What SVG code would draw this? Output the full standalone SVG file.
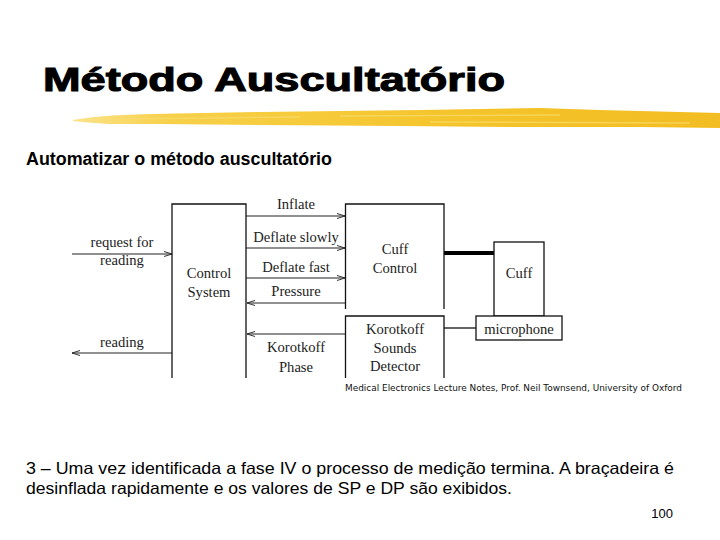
<svg xmlns="http://www.w3.org/2000/svg" width="720" height="540" viewBox="0 0 720 540">
<defs>
<linearGradient id="brush" x1="0" y1="0" x2="1" y2="0">
<stop offset="0" stop-color="#FBE38A"/>
<stop offset="0.15" stop-color="#F7D04A"/>
<stop offset="0.6" stop-color="#F4C42A"/>
<stop offset="1" stop-color="#F2BD22"/>
</linearGradient>
<marker id="arr" markerWidth="10" markerHeight="8" refX="9" refY="4" orient="auto" markerUnits="userSpaceOnUse">
<path d="M1,1.5 L9,4 L1,6.5" fill="none" stroke="#333" stroke-width="1"/>
</marker>
<style>
.t{font-family:"Liberation Serif","Times New Roman",serif;font-size:14.6px;fill:#222;text-anchor:middle}
.ln{stroke:#111;stroke-width:1.3;fill:none}
.bx{stroke:#111;stroke-width:1.3;fill:#fff}
.c{stroke:#222;stroke-width:1.1;fill:none;marker-end:url(#arr)}
</style>
</defs>
<rect width="720" height="540" fill="#fff"/>
<text x="43" y="91" font-family="'Liberation Sans',Arial,sans-serif" font-weight="bold" font-size="34" fill="#000" stroke="#000" stroke-width="1.1" textLength="462" lengthAdjust="spacingAndGlyphs">Método Auscultatório</text>
<path d="M73,120 C90,117 110,115 150,114 L260,112 L420,110 L540,108 L600,110 L680,112 L720,113 L720,128 L640,127 L520,127 L400,126 L260,125 L160,124 L110,124 C95,123 82,122 73,121 Z" fill="url(#brush)"/>
<path d="M120,119 L300,117 M340,116 L560,115 M430,122 L690,123" stroke="#F9DC6E" stroke-width="1.5" fill="none" opacity="0.7"/>
<text x="26" y="165" font-family="'Liberation Sans',Arial,sans-serif" font-weight="bold" font-size="17.5" fill="#000" textLength="306" lengthAdjust="spacingAndGlyphs">Automatizar o método auscultatório</text>
<g id="connectors">
<line class="c" x1="72" y1="254" x2="172" y2="254"/>
<line class="c" x1="172" y1="353" x2="72" y2="353"/>
<line class="c" x1="246" y1="216" x2="345" y2="216"/>
<line class="c" x1="246" y1="248" x2="345" y2="248"/>
<line class="c" x1="246" y1="278" x2="345" y2="278"/>
<line class="c" x1="345" y1="303" x2="247" y2="303"/>
<line class="c" x1="345" y1="334" x2="247" y2="334"/>
<line x1="444" y1="253" x2="494" y2="253" stroke="#000" stroke-width="4"/>
<line x1="444" y1="328" x2="476" y2="328" stroke="#111" stroke-width="1.3"/>
<text class="t" x="122" y="247">request for</text>
<text class="t" x="122" y="265">reading</text>
<text class="t" x="122" y="347">reading</text>
<text class="t" x="296" y="209">Inflate</text>
<text class="t" x="296" y="242">Deflate slowly</text>
<text class="t" x="296" y="272">Deflate fast</text>
<text class="t" x="296" y="296">Pressure</text>
<text class="t" x="296" y="352">Korotkoff</text>
<text class="t" x="296" y="372">Phase</text>
</g>
<g id="control-system">
<path class="ln" d="M172,378 L172,204 L246,204 L246,378"/>
<text class="t" x="209" y="278">Control</text>
<text class="t" x="209" y="297">System</text>
</g>
<g id="cuff-control">
<path class="ln" d="M345.5,309 L345.5,204 L444,204 L444,309"/>
<text class="t" x="395" y="254">Cuff</text>
<text class="t" x="395" y="273">Control</text>
</g>
<g id="korotkoff-detector">
<path class="ln" d="M345.5,378 L345.5,316 L444,316 L444,378"/>
<text class="t" x="395" y="334">Korotkoff</text>
<text class="t" x="395" y="353">Sounds</text>
<text class="t" x="395" y="371">Detector</text>
</g>
<g id="cuff">
<rect class="bx" x="494" y="242" width="50" height="74"/>
<text class="t" x="519" y="278">Cuff</text>
</g>
<g id="microphone">
<rect class="bx" x="476" y="316" width="86" height="24"/>
<text class="t" x="519" y="334">microphone</text>
</g>
<text x="345" y="391" font-family="'DejaVu Sans',Tahoma,sans-serif" font-size="9.5" fill="#111" textLength="337" lengthAdjust="spacingAndGlyphs">Medical Electronics Lecture Notes, Prof. Neil Townsend, University of Oxford</text>
<text x="26" y="474" font-family="'Liberation Sans',Tahoma,sans-serif" font-size="16.5" fill="#000" textLength="648" lengthAdjust="spacingAndGlyphs">3 – Uma vez identificada a fase IV o processo de medição termina. A braçadeira é</text>
<text x="26" y="494" font-family="'Liberation Sans',Tahoma,sans-serif" font-size="16.5" fill="#000" textLength="486" lengthAdjust="spacingAndGlyphs">desinflada rapidamente e os valores de SP e DP são exibidos.</text>
<text x="673" y="518" font-family="'Liberation Sans',Tahoma,sans-serif" font-size="13" fill="#000" text-anchor="end">100</text>
</svg>
